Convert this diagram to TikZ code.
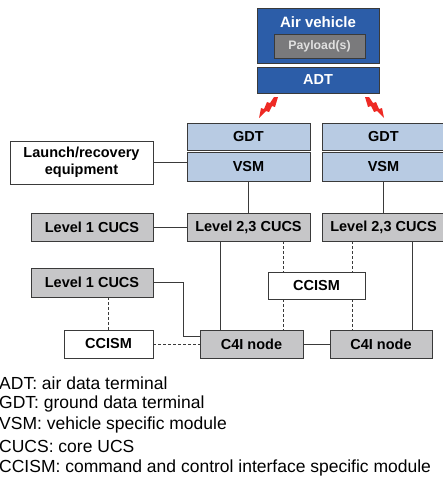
\documentclass[tikz,border=0pt]{standalone}
\usepackage{fontspec}
\setmainfont{Liberation Sans}
\definecolor{avblue}{HTML}{2C5DA8}
\definecolor{gdtblue}{HTML}{B8CBE3}
\definecolor{cucsgrey}{HTML}{C6C6C8}
\definecolor{loadgrey}{HTML}{7A7A7C}
\definecolor{lineclr}{HTML}{3A3A3A}
\definecolor{boltred}{HTML}{EE2A24}
\tikzset{bolt/.pic={\fill[boltred] (0,0) -- (4,0) -- (8,6) -- (11,5) -- (14,12) -- (17,11) -- (19,21)
  -- (12,14) -- (9,15) -- (6,9) -- (3,10) -- cycle;}}
\begin{document}
\begin{tikzpicture}[x=1pt,y=-1pt,
  box/.style={draw=lineclr,line width=0.9pt,inner sep=0pt,font=\bfseries\fontsize{14.5}{17}\selectfont},
  bluebox/.style={box,fill=avblue,text=white},
  lightbox/.style={box,fill=gdtblue,minimum width=123pt},
  greybox/.style={box,fill=cucsgrey,minimum height=28pt},
  whitebox/.style={box,fill=white},
  link/.style={draw=lineclr,line width=0.8pt},
  dlink/.style={link,dash pattern=on 3pt off 2pt},
  legend/.style={anchor=west,inner sep=0pt,font=\fontsize{17.5}{21}\selectfont}]
\useasboundingbox (0,0) rectangle (443,479);

% air vehicle
\node[bluebox,minimum width=122pt,minimum height=55pt] (av) at (318,35.5) {};
\node[text=white,font=\bfseries\fontsize{15}{18}\selectfont] (avtitle) at (318,22) {Air vehicle};
\node[box,fill=loadgrey,text=white!88!black,minimum width=91pt,minimum height=24pt,
  font=\bfseries\fontsize{12.3}{14}\selectfont] (payload) at (319.5,46) {Payload(s)};
\node[bluebox,minimum width=122pt,minimum height=26pt] (adt) at (318,80) {ADT};
\pic[xscale=-1] at (278,97) {bolt};
\pic at (365,97) {bolt};

% ground stations
\node[lightbox,minimum height=27pt] (gdtA) at (248.5,136.5) {GDT};
\node[lightbox,minimum height=29pt] (vsmA) at (248.5,166.5) {VSM};
\node[lightbox,minimum height=27pt] (gdtB) at (383.5,136.5) {GDT};
\node[lightbox,minimum height=29pt] (vsmB) at (383.5,166.5) {VSM};
\node[whitebox,minimum width=143pt,minimum height=43pt,align=center] (launch) at (81.5,162.5)
  {Launch/recovery\\equipment};

\node[greybox,minimum width=122pt] (lvlOneA) at (92,227) {Level 1 CUCS};
\node[greybox,minimum width=123pt] (lvlTwoA) at (248.5,227) {Level 2,3 CUCS};
\node[greybox,minimum width=123pt] (lvlTwoB) at (383.5,227) {Level 2,3 CUCS};
\node[greybox,minimum width=122pt,minimum height=29pt] (lvlOneB) at (92,282.5) {Level 1 CUCS};
\node[whitebox,minimum width=97pt,minimum height=27pt] (ccismMid) at (316.5,285.5) {CCISM};
\node[whitebox,minimum width=89pt,minimum height=28pt] (ccismLeft) at (108.5,344) {CCISM};
\node[greybox,minimum width=103pt] (ciA) at (251.5,344) {C4I node};
\node[greybox,minimum width=102pt] (ciB) at (381,344) {C4I node};

% links
\draw[link] (launch.east) -- (launch.east -| vsmA.west);
\draw[link] (vsmA) -- (lvlTwoA);
\draw[link] (vsmB) -- (lvlTwoB);
\draw[link] (lvlOneA) -- (lvlTwoA);
\draw[link] ([xshift=-28.5pt]lvlTwoA.south) -- ([xshift=-28.5pt]lvlTwoA.south |- ciA.north);
\draw[link] ([xshift=28.5pt]lvlTwoB.south) -- ([xshift=28.5pt]lvlTwoB.south |- ciB.north);
\draw[dlink] ([xshift=34.5pt]lvlTwoA.south) -- ([xshift=34.5pt]lvlTwoA.south |- ccismMid.north);
\draw[dlink] ([xshift=-31.5pt]lvlTwoB.south) -- ([xshift=-31.5pt]lvlTwoB.south |- ccismMid.north);
\draw[dlink] ([xshift=34.5pt]lvlTwoA.south |- ccismMid.south) -- ([xshift=34.5pt]lvlTwoA.south |- ciA.north);
\draw[dlink] ([xshift=-31.5pt]lvlTwoB.south |- ccismMid.south) -- ([xshift=-31.5pt]lvlTwoB.south |- ciB.north);
\draw[link] (lvlOneB.east) -- ++(30,0) |- ([yshift=8pt]ciA.west);
\draw[dlink] (ccismLeft.north) -- (ccismLeft.north |- lvlOneB.south);
\draw[dlink] (ccismLeft) -- (ciA);
\draw[link] (ciA) -- (ciB);

% legend
\foreach \txt [count=\i] in {ADT: air data terminal, GDT: ground data terminal,
  VSM: vehicle specific module, CUCS: core UCS,
  CCISM: command and control interface specific module}
  \node[legend] (leg\i) at (-1,{383+21.2*(\i-1)}) {\txt};
\end{tikzpicture}
\end{document}
